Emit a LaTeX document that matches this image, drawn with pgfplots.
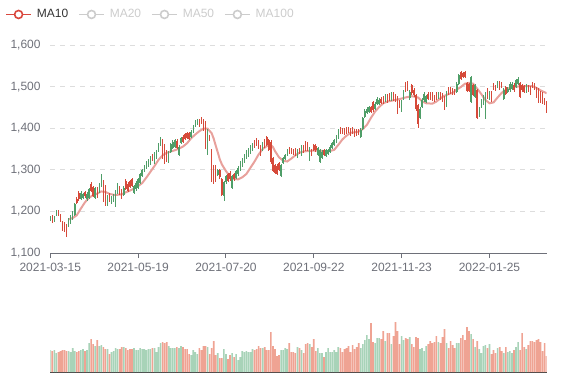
\documentclass[border=0pt]{standalone}
\usepackage{pgfplots}
\pgfplotsset{compat=1.18}
\usepackage{pgfplotstable}
\usepackage{fontspec}
\setmainfont{Liberation Sans}
\definecolor{upG}{HTML}{4F9E68}
\definecolor{dnR}{HTML}{D64A3A}
\definecolor{volG}{HTML}{A8D3B8}
\definecolor{volR}{HTML}{EFA393}
\definecolor{maC}{HTML}{E8A19C}
\definecolor{legR}{HTML}{D9473D}
\definecolor{axisC}{HTML}{6E7079}
\definecolor{gridC}{HTML}{DDDDDD}
\definecolor{txtC}{HTML}{333333}
\definecolor{offC}{HTML}{CCCCCC}
\definecolor{volAx}{HTML}{444444}

% candle pieces as filled rectangles; \candlelen is a length in pt
\pgfdeclareplotmark{candlebody}{%
  \pgfpathrectangle{\pgfpoint{-0.55pt}{0pt}}{\pgfpoint{1.1pt}{\candlelen pt}}%
  \pgfusepathqfill}
\pgfdeclareplotmark{candlewick}{%
  \pgfpathrectangle{\pgfpoint{-0.28pt}{0pt}}{\pgfpoint{0.56pt}{\candlelen pt}}%
  \pgfusepathqfill}

% rising days (close above open)
\pgfplotstableread{
i o h l c v
0 1179 1188 1176 1185 22
2 1178 1189 1175 1186 22
3 1193 1204 1190 1201 19
9 1166 1185 1163 1182 21
10 1172 1192 1169 1189 20
11 1182 1200 1179 1197 24
12 1191 1220 1188 1217 21
15 1231 1248 1228 1245 22
16 1232 1245 1229 1242 23
18 1229 1246 1226 1243 22
19 1233 1256 1230 1253 29
22 1232 1259 1229 1256 26
24 1247 1268 1244 1265 26
25 1261 1289 1258 1286 27
28 1217 1240 1214 1237 23
30 1220 1236 1217 1233 20
31 1225 1242 1222 1239 21
32 1213 1252 1210 1249 24
33 1245 1268 1242 1265 23
36 1239 1260 1236 1257 25
41 1245 1264 1242 1261 24
42 1253 1272 1250 1269 22
43 1257 1280 1254 1277 22
44 1269 1292 1266 1289 24
45 1285 1302 1282 1299 23
46 1297 1311 1294 1308 23
47 1305 1321 1302 1318 22
48 1309 1327 1306 1324 23
49 1314 1333 1311 1330 23
51 1318 1343 1315 1340 24
52 1330 1348 1327 1345 20
53 1345 1365 1342 1362 25
54 1360 1378 1357 1375 29
58 1320 1345 1317 1342 26
59 1344 1365 1341 1362 24
60 1352 1371 1349 1368 24
61 1356 1375 1353 1372 24
63 1336 1359 1333 1356 24
64 1364 1379 1361 1376 26
69 1380 1395 1377 1392 17
70 1391 1408 1388 1405 22
71 1406 1419 1403 1416 20
72 1410 1423 1407 1420 18
77 1340 1399 1336 1396 25
82 1288 1303 1285 1300 19
85 1238 1273 1225 1270 23
86 1270 1288 1267 1285 18
89 1257 1288 1254 1285 19
91 1281 1300 1278 1297 18
92 1289 1308 1286 1305 12
93 1301 1320 1298 1317 15
94 1309 1329 1306 1326 21
95 1320 1339 1317 1336 20
96 1328 1347 1325 1344 21
97 1334 1353 1331 1350 20
98 1340 1359 1337 1356 20
99 1348 1365 1345 1362 23
104 1348 1367 1345 1364 24
113 1286 1315 1283 1312 22
114 1316 1331 1313 1328 22
115 1326 1339 1323 1336 24
116 1336 1351 1333 1348 23
121 1332 1351 1329 1348 25
123 1336 1359 1333 1356 22
127 1326 1355 1322 1352 28
131 1336 1355 1333 1352 24
132 1318 1351 1316 1348 19
133 1328 1347 1325 1344 19
135 1334 1350 1331 1347 20
136 1339 1351 1336 1348 24
137 1344 1359 1341 1356 20
138 1352 1367 1349 1364 20
139 1360 1375 1357 1372 22
140 1368 1383 1365 1380 20
141 1378 1397 1375 1394 25
152 1380 1400 1376 1396 24
153 1398 1427 1395 1424 28
154 1428 1445 1425 1442 32
155 1436 1450 1433 1447 37
156 1440 1454 1437 1451 33
159 1447 1462 1444 1459 29
160 1459 1474 1456 1471 34
161 1458 1472 1455 1469 34
164 1467 1482 1464 1479 31
167 1469 1486 1466 1483 28
172 1441 1469 1438 1466 36
173 1470 1493 1467 1490 32
176 1472 1491 1469 1488 35
181 1425 1450 1422 1447 23
182 1451 1472 1448 1469 24
183 1467 1486 1464 1483 21
184 1463 1480 1460 1477 26
190 1473 1486 1470 1483 30
194 1455 1490 1452 1487 29
199 1487 1510 1484 1507 29
200 1507 1530 1504 1527 29
206 1463 1526 1460 1523 38
208 1476 1506 1473 1503 25
210 1431 1450 1428 1447 23
211 1451 1470 1448 1467 19
212 1459 1480 1456 1477 26
213 1424 1486 1421 1483 27
215 1471 1490 1468 1487 28
219 1499 1514 1496 1511 24
222 1471 1496 1468 1493 19
224 1487 1498 1484 1495 20
225 1491 1510 1488 1507 21
226 1495 1510 1492 1507 19
228 1499 1518 1496 1515 25
229 1507 1522 1504 1519 30
233 1487 1506 1484 1503 23
}\upT

% falling days (close below open)
\pgfplotstableread{
i o h l c v
1 1188 1191 1171 1174 21
4 1200 1203 1188 1191 20
5 1191 1194 1175 1178 21
6 1175 1178 1153 1156 22
7 1171 1174 1151 1154 22
8 1167 1170 1138 1145 21
13 1231 1234 1218 1221 20
14 1245 1248 1226 1229 21
17 1247 1250 1233 1236 21
20 1267 1270 1246 1249 33
21 1259 1262 1234 1237 28
23 1255 1258 1233 1236 32
26 1273 1276 1222 1225 25
27 1261 1264 1214 1217 23
29 1242 1245 1222 1225 18
34 1259 1262 1240 1243 23
35 1251 1254 1230 1233 25
37 1274 1277 1252 1255 24
38 1267 1270 1246 1249 22
39 1273 1276 1256 1259 23
40 1277 1280 1258 1261 23
50 1336 1339 1320 1323 24
55 1372 1375 1327 1330 30
56 1360 1363 1315 1318 29
57 1345 1348 1319 1322 30
62 1370 1373 1349 1352 25
65 1380 1383 1365 1368 25
66 1386 1389 1371 1374 23
67 1388 1391 1373 1376 23
68 1388 1391 1371 1374 18
73 1418 1421 1404 1407 24
74 1423 1426 1409 1412 22
75 1420 1423 1393 1396 26
76 1410 1418 1350 1356 26
78 1380 1383 1369 1372 18
79 1348 1351 1270 1275 24
80 1308 1311 1267 1270 31
81 1308 1311 1270 1273 17
83 1300 1303 1279 1282 14
84 1277 1280 1237 1240 14
87 1289 1292 1270 1273 13
88 1293 1296 1274 1277 17
90 1289 1292 1274 1277 15
100 1368 1371 1353 1356 22
101 1374 1377 1357 1360 23
102 1368 1371 1349 1352 26
103 1356 1359 1333 1336 24
105 1372 1375 1353 1356 25
106 1378 1381 1357 1360 22
107 1372 1375 1345 1348 22
108 1368 1371 1315 1318 40
109 1328 1331 1294 1297 26
110 1312 1315 1290 1293 23
111 1310 1313 1288 1291 16
112 1316 1319 1296 1299 17
117 1352 1355 1337 1340 29
118 1350 1353 1337 1340 20
119 1348 1351 1336 1339 20
120 1350 1353 1333 1336 19
122 1350 1353 1337 1340 24
124 1356 1359 1341 1344 19
125 1366 1369 1345 1348 28
126 1363 1366 1345 1348 29
128 1348 1351 1333 1336 25
129 1360 1363 1345 1348 33
130 1358 1361 1344 1347 21
134 1348 1351 1333 1336 15
142 1400 1403 1385 1388 24
143 1398 1401 1385 1388 20
144 1398 1401 1383 1386 23
145 1400 1403 1385 1388 24
146 1401 1404 1389 1392 26
147 1398 1401 1381 1384 20
148 1401 1404 1385 1388 27
149 1396 1399 1379 1382 23
150 1396 1399 1381 1384 25
151 1396 1399 1383 1386 29
157 1451 1454 1437 1440 49
158 1462 1465 1440 1443 30
162 1471 1474 1457 1460 33
163 1474 1477 1458 1461 41
165 1479 1482 1460 1463 39
166 1482 1485 1466 1469 39
168 1483 1486 1466 1469 36
169 1479 1482 1464 1467 50
170 1475 1478 1434 1438 41
171 1466 1469 1449 1452 28
174 1509 1512 1487 1490 34
175 1511 1514 1489 1492 33
177 1503 1506 1481 1484 28
178 1493 1496 1476 1479 25
179 1479 1482 1442 1445 35
180 1455 1458 1400 1410 34
185 1483 1486 1468 1471 28
186 1483 1486 1468 1471 31
187 1483 1486 1466 1469 29
188 1477 1480 1464 1467 30
189 1483 1486 1468 1471 36
191 1483 1486 1468 1471 29
192 1481 1484 1464 1467 35
193 1475 1478 1444 1447 43
195 1495 1498 1480 1483 24
196 1495 1498 1482 1485 31
197 1493 1496 1480 1483 27
198 1491 1494 1480 1483 24
201 1535 1538 1516 1519 34
202 1532 1535 1520 1523 37
203 1535 1538 1521 1524 32
204 1509 1512 1487 1490 45
205 1506 1509 1487 1490 41
207 1503 1506 1477 1480 33
209 1491 1494 1421 1424 31
214 1493 1496 1471 1474 24
216 1487 1490 1464 1467 18
217 1505 1508 1492 1495 22
218 1501 1504 1490 1493 19
220 1511 1514 1492 1495 25
221 1509 1512 1496 1499 21
223 1499 1502 1480 1483 25
227 1505 1508 1488 1491 22
230 1509 1512 1472 1475 22
231 1503 1506 1488 1491 39
232 1501 1504 1484 1487 25
234 1501 1504 1488 1491 27
235 1499 1502 1480 1483 31
236 1507 1510 1496 1499 31
237 1505 1508 1492 1495 30
238 1495 1498 1472 1475 32
239 1493 1496 1460 1463 33
240 1487 1490 1460 1463 30
241 1483 1486 1458 1461 21
242 1470 1473 1455 1458 29
243 1463 1466 1437 1440 16
}\dnT

\pgfplotstableread{
i ma
9 1181
11 1184
13 1191
15 1207
17 1222
19 1233
21 1239
23 1243
25 1248
27 1247
29 1242
31 1240
33 1240
35 1241
37 1246
39 1250
41 1255
43 1261
45 1268
47 1281
49 1295
51 1309
53 1324
55 1335
57 1341
59 1344
61 1347
63 1351
65 1356
67 1364
69 1376
71 1385
73 1393
75 1399
77 1399
79 1388
80 1375
81 1358
82 1342
83 1325
84 1313
86 1297
88 1284
90 1278
92 1277
94 1282
96 1290
98 1305
100 1320
102 1337
104 1350
106 1357
108 1359
109 1355
110 1345
112 1330
114 1322
116 1320
118 1327
120 1335
122 1341
124 1344
128 1346
132 1346
136 1344
139 1348
141 1360
143 1373
145 1382
147 1389
149 1390
151 1392
153 1398
155 1408
157 1425
159 1440
161 1451
163 1460
165 1464
168 1467
171 1470
174 1474
177 1477
180 1474
182 1465
184 1460
187 1459
189 1464
191 1472
193 1478
195 1482
197 1485
199 1493
201 1499
203 1507
205 1509
207 1507
209 1495
211 1482
213 1468
215 1460
217 1462
219 1474
221 1485
223 1493
225 1497
228 1500
232 1501
236 1501
238 1497
240 1491
243 1484
}\matable

\begin{document}
\begin{tikzpicture}
\useasboundingbox (0,0) rectangle (432.75pt,285pt);
\begin{axis}[
  at={(37.7pt,95.25pt)}, anchor=south west,
  scale only axis, width=372.3pt, height=156pt,
  xmin=0, xmax=243, ymin=1100, ymax=1600,
  axis lines*=left,
  x axis line style={draw=axisC, line width=0.75pt},
  y axis line style={draw=none},
  xtick={0,43,86,129,172,215},
  xticklabels={2021-03-15,2021-05-19,2021-07-20,2021-09-22,2021-11-23,2022-01-25},
  xtick style={draw=axisC, line width=0.75pt},
  tick align=outside, major tick length=3.75pt,
  ytick={1100,1200,1300,1400,1500,1600}, ytick style={draw=none},
  ymajorgrids, grid style={gridC, dash pattern=on 3.75pt off 3.75pt, line width=0.75pt},
  tick label style={font=\fontsize{9}{10}\selectfont, text=axisC},
  /pgf/number format/1000 sep={,},
  /pgf/number format/assume math mode=true,
  legend columns=4,
  legend image code/.code={\draw[#1, line width=1.2pt] (0pt,0pt) -- (18.75pt,0pt); \draw[#1, line width=1.2pt, fill=white] (9.375pt,0pt) circle (3pt);},
  legend style={at={(0,1)}, anchor=west, xshift=-33.95pt, yshift=22.9pt, draw=none, fill=none, inner sep=0pt,
    font=\fontsize{9}{10}\selectfont, nodes={inner sep=0pt},
    /tikz/every odd column/.append style={column sep=3.75pt},
    /tikz/every even column/.append style={column sep=7.5pt}},
]
\addlegendimage{legR}
\addlegendentry[text=txtC]{MA10}
\addlegendimage{offC}
\addlegendentry[text=offC]{MA20}
\addlegendimage{offC}
\addlegendentry[text=offC]{MA50}
\addlegendimage{offC}
\addlegendentry[text=offC]{MA100}
% wicks (low to high), 0.312pt per price unit
\addplot[forget plot, only marks, mark=candlewick, mark options={draw=none, fill=upG},
  visualization depends on={0.312*(\thisrow{h}-\thisrow{l}) \as \candlelen}]
  table[x=i, y=l] {\upT};
\addplot[forget plot, only marks, mark=candlewick, mark options={draw=none, fill=dnR},
  visualization depends on={0.312*(\thisrow{h}-\thisrow{l}) \as \candlelen}]
  table[x=i, y=l] {\dnT};
% bodies (open to close)
\addplot[forget plot, only marks, mark=candlebody, mark options={draw=none, fill=upG},
  visualization depends on={0.312*(\thisrow{c}-\thisrow{o}) \as \candlelen}]
  table[x=i, y=o] {\upT};
\addplot[forget plot, only marks, mark=candlebody, mark options={draw=none, fill=dnR},
  visualization depends on={0.312*(\thisrow{c}-\thisrow{o}) \as \candlelen}]
  table[x=i, y=o] {\dnT};
% MA10
\addplot[forget plot, maC, line width=1.5pt, mark=none] table[x=i, y=ma] {\matable};
\end{axis}
\begin{axis}[
  at={(37.7pt,6pt)}, anchor=south west,
  scale only axis, width=372.3pt, height=56.25pt,
  xmin=0, xmax=243, ymin=0, ymax=75,
  axis lines*=left,
  x axis line style={draw=volAx, line width=0.75pt},
  y axis line style={draw=none},
  xtick=\empty, ytick=\empty,
]
\addplot[ybar, bar width=0.8, bar shift=0pt, draw=none, fill=volG] table[x=i, y=v] {\upT};
\addplot[ybar, bar width=0.8, bar shift=0pt, draw=none, fill=volR] table[x=i, y=v] {\dnT};
\end{axis}
\end{tikzpicture}
\end{document}
